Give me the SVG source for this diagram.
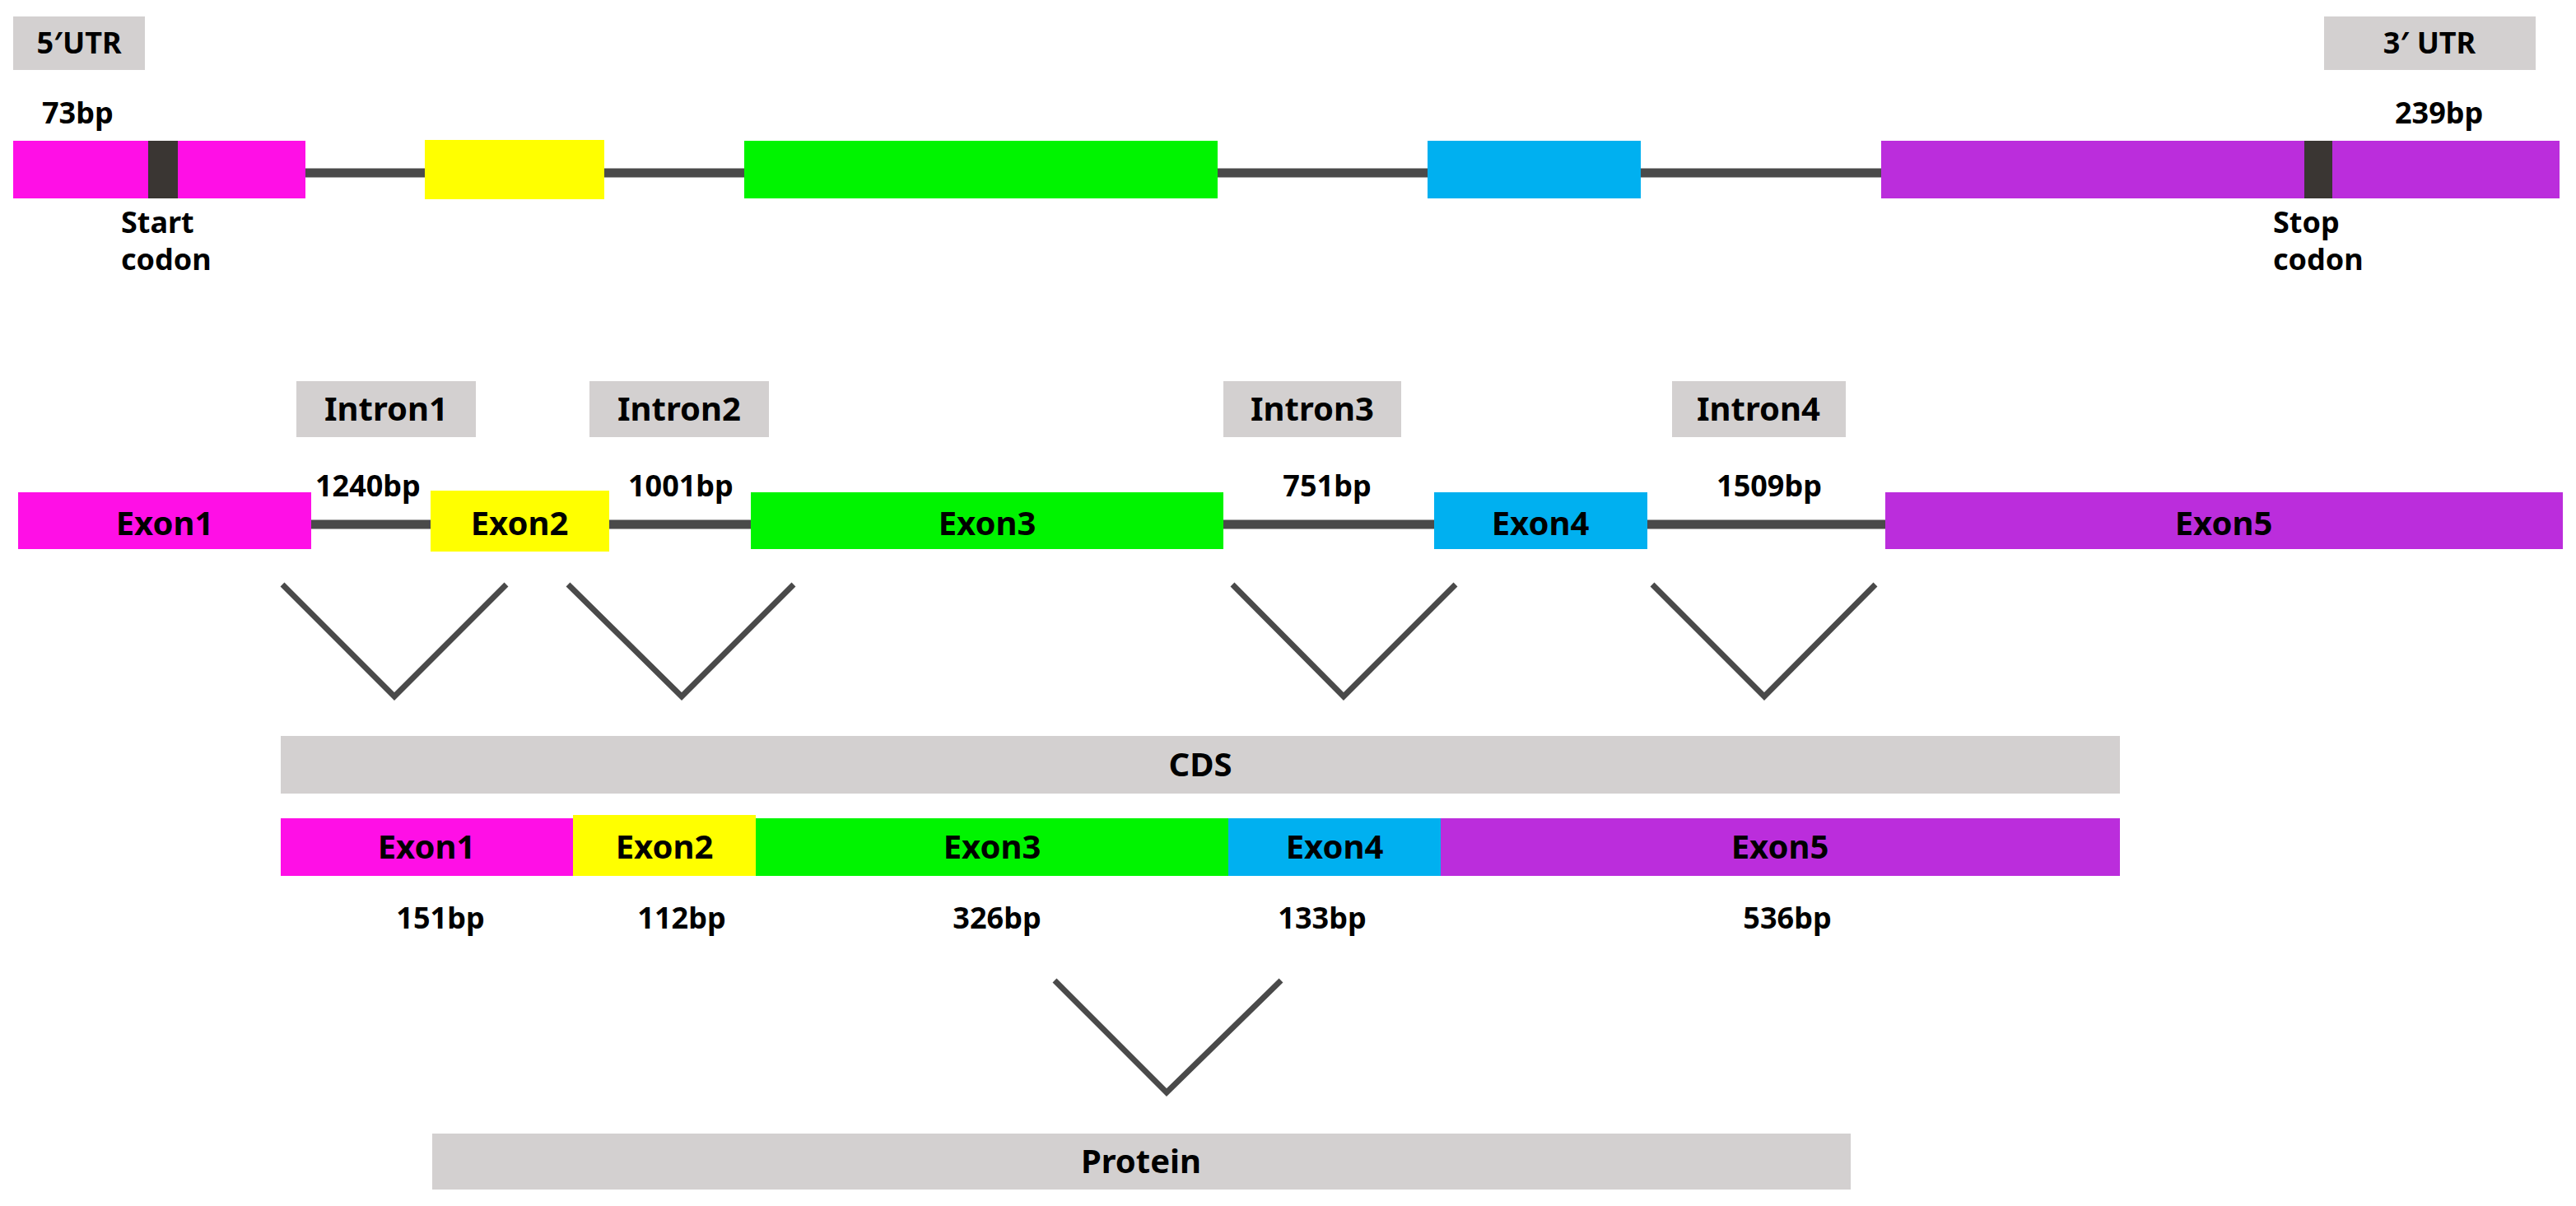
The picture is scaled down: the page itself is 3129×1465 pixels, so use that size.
<svg xmlns="http://www.w3.org/2000/svg" width="3129" height="1465" viewBox="0 0 3129 1465">
<style>
text{font-family:"Noto Sans","Liberation Sans",sans-serif;font-weight:bold;fill:#000}
.lab{font-size:36px}
.ex{font-size:40px;text-anchor:middle}
.box{fill:#d3d0d0}
.ln{stroke:#4a4a4a;stroke-width:11;fill:none}
.v{stroke:#4a4a4a;stroke-width:7;fill:none}
.m{fill:#ff0fe6}.y{fill:#ffff00}.g{fill:#00f400}.b{fill:#00b0f0}.p{fill:#bb2ddc}
.cod{fill:#3a3633}
</style>
<g id="connectors">
<line class="ln" x1="371" y1="210" x2="516" y2="210"/>
<line class="ln" x1="734" y1="210" x2="904" y2="210"/>
<line class="ln" x1="1479" y1="210" x2="1734" y2="210"/>
<line class="ln" x1="1993" y1="210" x2="2285" y2="210"/>
<line class="ln" x1="378" y1="637" x2="523" y2="637"/>
<line class="ln" x1="740" y1="637" x2="912" y2="637"/>
<line class="ln" x1="1486" y1="637" x2="1742" y2="637"/>
<line class="ln" x1="2001" y1="637" x2="2290" y2="637"/>
<polyline class="v" points="343,710 479,846 615,710"/>
<polyline class="v" points="690,710 828,846 964,710"/>
<polyline class="v" points="1497,710 1632,846 1768,710"/>
<polyline class="v" points="2007,710 2143,846 2278,710"/>
<polyline class="v" points="1281,1191 1417,1327 1556,1191"/>
</g>
<g id="utr5"><rect class="box" x="16" y="20" width="160" height="65"/><text class="lab" x="96" y="65" text-anchor="middle">5′UTR</text></g>
<g id="utr3"><rect class="box" x="2823" y="20" width="257" height="65"/><text class="lab" x="2951" y="65" text-anchor="middle">3′ UTR</text></g>
<g id="gene-top">
<rect class="m" x="16" y="171" width="355" height="70"/>
<rect class="cod" x="180" y="171" width="36" height="70"/>
<rect class="y" x="516" y="170" width="218" height="72"/>
<rect class="g" x="904" y="171" width="575" height="70"/>
<rect class="b" x="1734" y="171" width="259" height="70"/>
<rect class="p" x="2285" y="171" width="824" height="70"/>
<rect class="cod" x="2799" y="171" width="34" height="70"/>
<text class="lab" x="51" y="150">73bp</text>
<text class="lab" x="2909" y="150">239bp</text>
<text class="lab" x="147" y="283">Start</text><text class="lab" x="147" y="328">codon</text>
<text class="lab" x="2761" y="283">Stop</text><text class="lab" x="2761" y="328">codon</text>
</g>
<g id="introns">
<rect class="box" x="360" y="463" width="218" height="68"/><text class="ex" x="469" y="511">Intron1</text>
<rect class="box" x="716" y="463" width="218" height="68"/><text class="ex" x="825" y="511">Intron2</text>
<rect class="box" x="1486" y="463" width="216" height="68"/><text class="ex" x="1594" y="511">Intron3</text>
<rect class="box" x="2031" y="463" width="211" height="68"/><text class="ex" x="2136" y="511">Intron4</text>
<text class="lab" x="383" y="603">1240bp</text>
<text class="lab" x="763" y="603">1001bp</text>
<text class="lab" x="1612" y="603" text-anchor="middle">751bp</text>
<text class="lab" x="2149" y="603" text-anchor="middle">1509bp</text>
</g>
<g id="gene-exons">
<rect class="m" x="22" y="598" width="356" height="69"/><text class="ex" x="200" y="650">Exon1</text>
<rect class="y" x="523" y="596" width="217" height="74"/><text class="ex" x="631" y="650">Exon2</text>
<rect class="g" x="912" y="598" width="574" height="69"/><text class="ex" x="1199" y="650">Exon3</text>
<rect class="b" x="1742" y="598" width="259" height="69"/><text class="ex" x="1871" y="650">Exon4</text>
<rect class="p" x="2290" y="598" width="823" height="69"/><text class="ex" x="2701" y="650">Exon5</text>
</g>
<g id="cds"><rect class="box" x="341" y="894" width="2234" height="70"/><text class="ex" x="1458" y="943">CDS</text></g>
<g id="cds-exons">
<rect class="m" x="341" y="994" width="355" height="70"/><text class="ex" x="518" y="1043">Exon1</text>
<rect class="y" x="696" y="990" width="222" height="74"/><text class="ex" x="807" y="1043">Exon2</text>
<rect class="g" x="918" y="994" width="574" height="70"/><text class="ex" x="1205" y="1043">Exon3</text>
<rect class="b" x="1492" y="994" width="258" height="70"/><text class="ex" x="1621" y="1043">Exon4</text>
<rect class="p" x="1750" y="994" width="825" height="70"/><text class="ex" x="2162" y="1043">Exon5</text>
<text class="ex" style="font-size:36px" x="535" y="1128">151bp</text>
<text class="ex" style="font-size:36px" x="828" y="1128">112bp</text>
<text class="ex" style="font-size:36px" x="1211" y="1128">326bp</text>
<text class="ex" style="font-size:36px" x="1606" y="1128">133bp</text>
<text class="ex" style="font-size:36px" x="2171" y="1128">536bp</text>
</g>
<g id="protein"><rect class="box" x="525" y="1377" width="1723" height="68"/><text class="ex" x="1386" y="1425">Protein</text></g>
</svg>
